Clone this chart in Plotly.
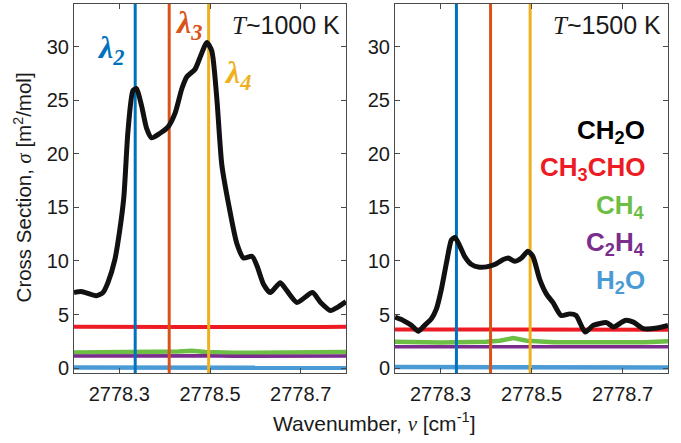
import plotly.graph_objects as go

# ---------------- data ----------------
wn_1000 = [2778.200, 2778.216, 2778.249, 2778.264, 2778.275, 2778.290, 2778.301, 2778.310,
           2778.319, 2778.330, 2778.338, 2778.349, 2778.360, 2778.371, 2778.389, 2778.408,
           2778.423, 2778.438, 2778.449, 2778.467, 2778.478, 2778.493, 2778.504, 2778.515,
           2778.526, 2778.541, 2778.559, 2778.574, 2778.593, 2778.604, 2778.618, 2778.633,
           2778.655, 2778.670, 2778.692, 2778.726, 2778.744, 2778.766, 2778.781, 2778.800]
ch2o_1000 = [7.05, 7.15, 6.75, 7.05, 8.0, 10.1, 12.9, 16.0,
             22.1, 25.9, 26.1, 24.5, 22.4, 21.5, 21.9, 22.55,
             23.8, 26.1, 27.2, 27.9, 29.0, 30.4, 29.6, 25.2,
             19.0, 15.3, 11.66, 10.28, 10.43, 9.5, 7.83, 7.05,
             7.97, 7.2, 6.13, 7.05, 6.13, 5.37, 5.67, 6.2]

wn_1500 = [2778.200, 2778.218, 2778.236, 2778.251, 2778.265, 2778.280, 2778.291, 2778.302,
           2778.313, 2778.324, 2778.332, 2778.343, 2778.353, 2778.368, 2778.386, 2778.401,
           2778.419, 2778.438, 2778.449, 2778.463, 2778.478, 2778.492, 2778.503, 2778.518,
           2778.533, 2778.547, 2778.565, 2778.584, 2778.598, 2778.618, 2778.636, 2778.665,
           2778.680, 2778.706, 2778.724, 2778.746, 2778.776, 2778.800]
ch2o_1500 = [4.75, 4.45, 3.99, 3.43, 3.99, 4.6, 5.52, 7.37,
             9.8, 11.97, 12.2, 11.35, 10.43, 9.67, 9.42, 9.45,
             9.67, 10.13, 10.28, 9.97, 10.28, 10.9, 10.43, 8.29,
             6.9, 6.13, 4.91, 5.06, 4.91, 3.37, 3.99, 4.24,
             3.83, 4.45, 4.29, 3.68, 3.74, 3.99]

wn_flat = [2778.20, 2778.30, 2778.40, 2778.43, 2778.46, 2778.49, 2778.55, 2778.65, 2778.75, 2778.80]
ch3cho_1000 = [3.85, 3.88, 3.85, 3.84, 3.83, 3.82, 3.84, 3.84, 3.83, 3.85]
ch4_1000 = [1.45, 1.45, 1.47, 1.55, 1.62, 1.50, 1.42, 1.45, 1.45, 1.50]
c2h4_1000 = [1.12, 1.12, 1.13, 1.17, 1.20, 1.15, 1.10, 1.10, 1.10, 1.12]
h2o_1000 = [0.05, 0.05, 0.05, 0.05, 0.05, 0.05, 0.05, 0.05, 0.05, 0.02]

ch3cho_1500 = [3.6, 3.6, 3.6, 3.6, 3.62, 3.6, 3.6, 3.6, 3.58, 3.58]
ch4_1500 = [2.45, 2.38, 2.45, 2.55, 2.80, 2.55, 2.40, 2.38, 2.40, 2.50]
c2h4_1500 = [2.0, 2.0, 2.0, 2.0, 2.0, 2.0, 2.0, 2.0, 2.0, 2.0]
h2o_1500 = [0.1, 0.1, 0.1, 0.12, 0.12, 0.1, 0.1, 0.1, 0.1, 0.05]

lambda_pos = [2778.335, 2778.410, 2778.497]
lambda_names = ["λ<sub>2</sub>", "λ<sub>3</sub>", "λ<sub>4</sub>"]
lambda_colors = ["#0072BD", "#D95319", "#EDB120"]

species = ["CH<sub>2</sub>O", "CH<sub>3</sub>CHO", "CH<sub>4</sub>", "C<sub>2</sub>H<sub>4</sub>", "H<sub>2</sub>O"]
species_colors = ["#000000", "#ED1C24", "#6DBE45", "#7B2D8E", "#4A9AD6"]

x_ticks = [2778.3, 2778.5, 2778.7]
y_ticks = [0, 5, 10, 15, 20, 25, 30]
x_range = [2778.2, 2778.8]
y_range = [-0.45, 34.0]

# ---------------- figure ----------------
W, H = 681, 443
fig = go.Figure()

panels = [
    ("x", "y", wn_1000, ch2o_1000, [ch3cho_1000, ch4_1000, c2h4_1000, h2o_1000]),
    ("x2", "y2", wn_1500, ch2o_1500, [ch3cho_1500, ch4_1500, c2h4_1500, h2o_1500]),
]
minor_widths = [4, 4.5, 3.5, 4.5]
for xa, ya, wn, ch2o, others in panels:
    for vals, col, lw in zip(others, species_colors[1:], minor_widths):
        fig.add_trace(go.Scatter(x=wn_flat, y=vals, mode="lines", xaxis=xa, yaxis=ya,
                                 line=dict(color=col, width=lw), showlegend=False, hoverinfo="skip"))
    for pos, col in zip(lambda_pos, lambda_colors):
        fig.add_trace(go.Scatter(x=[pos, pos], y=y_range, mode="lines", xaxis=xa, yaxis=ya,
                                 line=dict(color=col, width=3), showlegend=False, hoverinfo="skip"))
    fig.add_trace(go.Scatter(x=wn, y=ch2o, mode="lines", xaxis=xa, yaxis=ya,
                             line=dict(color="#111111", width=5, shape="spline", smoothing=0.6),
                             showlegend=False, hoverinfo="skip"))

axis_common = dict(showline=True, linecolor="#4a4a4a", linewidth=1, mirror="ticks",
                   ticks="inside", ticklen=5, tickcolor="#4a4a4a", showgrid=False, zeroline=False,
                   tickfont=dict(family="Liberation Sans, Arial", size=20, color="#1a1a1a"))

xdom1 = [74 / W, 346 / W]
xdom2 = [395 / W, 668 / W]
ydom = [1 - 378 / H, 1 - 4 / H]

fig.update_layout(
    width=W, height=H,
    margin=dict(l=0, r=0, t=0, b=0),
    paper_bgcolor="white", plot_bgcolor="white",
    font=dict(family="Liberation Sans, Arial", color="#1a1a1a"),
    xaxis=dict(domain=xdom1, range=x_range, tickvals=x_ticks, ticktext=[str(v) for v in x_ticks],
               anchor="y", ticklabelstandoff=3, **axis_common),
    yaxis=dict(domain=ydom, range=y_range, tickvals=y_ticks, anchor="x", **axis_common),
    xaxis2=dict(domain=xdom2, range=x_range, tickvals=x_ticks, ticktext=[str(v) for v in x_ticks],
                anchor="y2", ticklabelstandoff=3, **axis_common),
    yaxis2=dict(domain=ydom, range=y_range, tickvals=y_ticks, anchor="x2", **axis_common),
)

serif = "Liberation Serif, Times New Roman"
ann = []
# axis titles
ann.append(dict(text="Cross Section, <span style='font-family:Liberation Serif'><i>σ</i></span> [m<sup>2</sup>/mol]",
                x=23 / W, y=1 - 190 / H, xref="paper", yref="paper", textangle=-90,
                showarrow=False, font=dict(size=20.5), xanchor="center", yanchor="middle"))
ann.append(dict(text="Wavenumber, <span style='font-family:Liberation Serif'><i>ν</i></span> [cm<sup>-1</sup>]",
                x=374 / W, y=1 - 428 / H, xref="paper", yref="paper",
                showarrow=False, font=dict(size=21), xanchor="center", yanchor="middle"))
# temperature labels
ann.append(dict(text="<span style='font-family:Liberation Serif'><i>T</i></span>~1000 K",
                x=342 / W, y=1 - 25 / H, xref="paper", yref="paper", showarrow=False,
                font=dict(size=25), xanchor="right", yanchor="middle"))
ann.append(dict(text="<span style='font-family:Liberation Serif'><i>T</i></span>~1500 K",
                x=663 / W, y=1 - 25 / H, xref="paper", yref="paper", showarrow=False,
                font=dict(size=25), xanchor="right", yanchor="middle"))
# lambda labels
lam_px = [(110, 50), (188, 25), (237, 76)]
for name, col, (px, py) in zip(lambda_names, lambda_colors, lam_px):
    ann.append(dict(text="<b><i>" + name + "</i></b>", x=px / W, y=1 - py / H, xref="paper", yref="paper",
                    showarrow=False, font=dict(size=32, family=serif, color=col),
                    xanchor="center", yanchor="middle"))
# species labels
sp_py = [133, 171, 209, 247, 285]
for name, col, py in zip(species, species_colors, sp_py):
    ann.append(dict(text="<b>" + name + "</b>", x=647 / W, y=1 - py / H, xref="paper", yref="paper",
                    showarrow=False, font=dict(size=26, color=col), xanchor="right", yanchor="middle"))
fig.update_layout(annotations=ann)

fig.write_html("out.html")
